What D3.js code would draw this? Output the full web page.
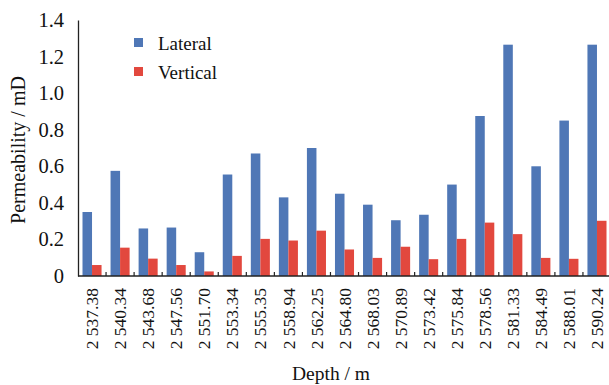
<!DOCTYPE html>
<html>
<head>
<meta charset="utf-8">
<script src="https://cdn.jsdelivr.net/npm/d3@7"></script>
<style>
  body { margin: 0; background: #fff; }
  svg text { font-family: "Liberation Serif", "Times New Roman", serif; fill: #111; }
</style>
</head>
<body>
<svg class="bar-chart" width="609" height="385"></svg>
<script>
const depths = ["2 537.38", "2 540.34", "2 543.68", "2 547.56", "2 551.70", "2 553.34", "2 555.35",
    "2 558.94", "2 562.25", "2 564.80", "2 568.03", "2 570.89", "2 573.42", "2 575.84",
    "2 578.56", "2 581.33", "2 584.49", "2 588.01", "2 590.24"];
const lateral = [0.35, 0.575, 0.26, 0.265, 0.13, 0.555, 0.67, 0.43, 0.70, 0.45, 0.39, 0.305,
    0.335, 0.50, 0.875, 1.265, 0.60, 0.85, 1.265];
const vertical = [0.06, 0.155, 0.095, 0.06, 0.025, 0.11, 0.203, 0.194, 0.248, 0.145, 0.099, 0.16,
    0.092, 0.203, 0.292, 0.229, 0.099, 0.094, 0.302];
const seriesNames = ["Lateral", "Vertical"];
const colors = ["#4f77b6", "#e2483e"];
const yTicks = [0, 0.2, 0.4, 0.6, 0.8, 1.0, 1.2, 1.4];

function drawBarChart() {
    const svg = d3.select("svg.bar-chart");
    const margin = {top: 20, right: -2, bottom: 109, left: 78};
    const width = +svg.attr("width") - margin.left - margin.right;
    const height = +svg.attr("height") - margin.top - margin.bottom;
    const g = svg.append("g").attr("transform", `translate(${margin.left}, ${margin.top})`);

    const rows = depths.map((d, i) => ({depth: d, values: [lateral[i], vertical[i]]}));

    const x0 = d3.scaleBand().domain(depths).range([0, width]).paddingInner(0).paddingOuter(0);
    const x1 = d3.scaleBand().domain(seriesNames).range([4.5, x0.bandwidth() - 4.5]).padding(0);
    const y = d3.scaleLinear().domain([0, 1.4]).range([height, 0]);

    // bars
    const groups = g.selectAll("g.group")
        .data(rows)
        .enter().append("g")
        .attr("class", "group")
        .attr("transform", (d) => `translate(${x0(d.depth)}, 0)`);

    groups.selectAll("rect")
        .data((d) => d.values.map((v, i) => ({name: seriesNames[i], value: v, i: i})))
        .enter().append("rect")
        .attr("x", (d) => x1(d.name))
        .attr("y", (d) => y(d.value))
        .attr("width", x1.bandwidth())
        .attr("height", (d) => height - y(d.value))
        .attr("fill", (d) => colors[d.i]);

    // y axis
    const yAxis = g.append("g")
        .attr("class", "axis axis--y")
        .call(d3.axisLeft(y).tickValues(yTicks).tickSize(0).tickPadding(14)
            .tickFormat((d) => d === 0 ? "0" : d3.format(".1f")(d)));
    yAxis.select(".domain").attr("stroke", "#222").attr("stroke-width", 1.3);
    yAxis.selectAll("text").style("font-size", "20.5px").attr("fill", "#111");

    // x axis: ticks at group boundaries, pointing up
    const boundaries = depths.map((d) => x0(d)).concat([width]);
    const xAxis = g.append("g")
        .attr("class", "axis axis--x")
        .attr("transform", `translate(0, ${height})`);
    xAxis.append("line")
        .attr("x1", 0).attr("x2", width)
        .attr("stroke", "#222").attr("stroke-width", 1.5);
    xAxis.selectAll("line.tick")
        .data(boundaries.slice(1, -1))
        .enter().append("line")
        .attr("class", "tick")
        .attr("x1", (d) => d).attr("x2", (d) => d)
        .attr("y1", 0).attr("y2", -4)
        .attr("stroke", "#222").attr("stroke-width", 1.2);
    xAxis.selectAll("text")
        .data(depths)
        .enter().append("text")
        .attr("transform", (d) => `translate(${x0(d) + x0.bandwidth() / 2}, 12) rotate(-90)`)
        .attr("text-anchor", "end")
        .attr("dy", "0.35em")
        .style("font-size", "17.5px")
        .text((d) => d);

    // axis titles
    svg.append("text")
        .attr("transform", `translate(25, ${margin.top + height / 2 + 2}) rotate(-90)`)
        .attr("text-anchor", "middle")
        .style("font-size", "20px")
        .text("Permeability / mD");
    svg.append("text")
        .attr("x", 331)
        .attr("y", 380)
        .attr("text-anchor", "middle")
        .style("font-size", "19.5px")
        .text("Depth / m");

    // legend
    const legend = svg.append("g").attr("transform", "translate(134, 38)");
    seriesNames.forEach((name, i) => {
        legend.append("rect")
            .attr("x", 0).attr("y", i * 29)
            .attr("width", 9).attr("height", 9)
            .attr("fill", colors[i]);
        legend.append("text")
            .attr("x", 24).attr("y", i * 29 + 5)
            .attr("dy", "0.35em")
            .style("font-size", "19px")
            .text(name);
    });
}

drawBarChart();
</script>
</body>
</html>
